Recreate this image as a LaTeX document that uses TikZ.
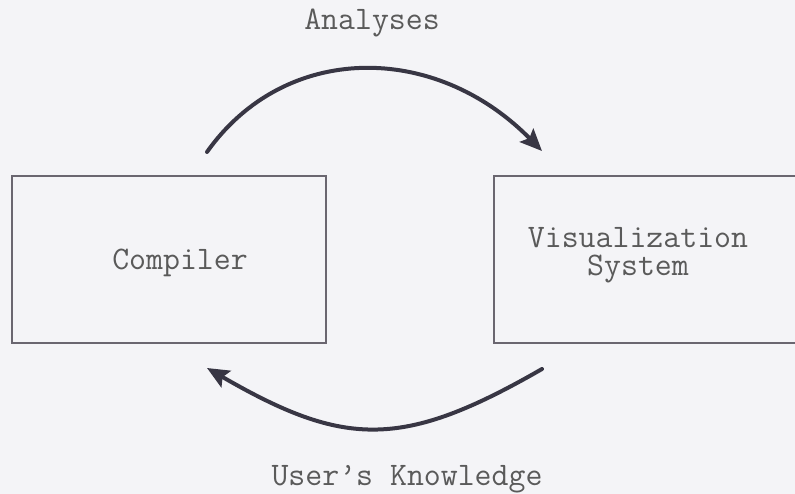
\documentclass[tikz,border=0pt]{standalone}
\usepackage{fontspec}
\usetikzlibrary{arrows.meta}
\definecolor{bg}{HTML}{F4F4F7}
\definecolor{boxline}{HTML}{6A6670}
\definecolor{txt}{HTML}{5A5A5A}
\definecolor{arr}{HTML}{383644}
\tikzset{
  box/.style={draw=boxline, line width=1.8bp, inner sep=0pt},
  lbl/.style={text=txt, font=\ttfamily\fontsize{33}{28}\selectfont, inner sep=0pt},
  flow/.style={draw=arr, line width=4bp, line cap=round,
    -{Stealth[length=22bp,width=19bp,inset=4bp]}}
}
\begin{document}
\begin{tikzpicture}[x=1bp,y=-1bp]
  \fill[bg] (0,0) rectangle (795,494);
  \useasboundingbox (0,0) rectangle (795,494);
  % boxes
  \node[box, minimum width=314bp, minimum height=167bp] (comp) at (169,259.5) {};
  \node[box, minimum width=330bp, minimum height=167bp] (vis) at (659,259.5) {};
  % texts
  \node[lbl, anchor=base] (comptxt) at (180,270) {Compiler};
  \node[lbl, align=center] (vistxt) at (638,255) {Visualization\\System};
  \node[lbl, anchor=base] (ana) at (372,30) {Analyses};
  \node[lbl, anchor=base] (uk) at (407,485) {User’s Knowledge};
  % arc endpoints
  \coordinate (ts) at (207,152);
  \coordinate (te) at (542,151);
  \coordinate (bs) at (542,369);
  \coordinate (be) at (207,368);
  \draw[flow] (ts) .. controls (285,42) and (435,42) .. (te);
  \draw[flow] (bs) .. controls (403,449) and (345,448) .. (be);
\end{tikzpicture}
\end{document}
